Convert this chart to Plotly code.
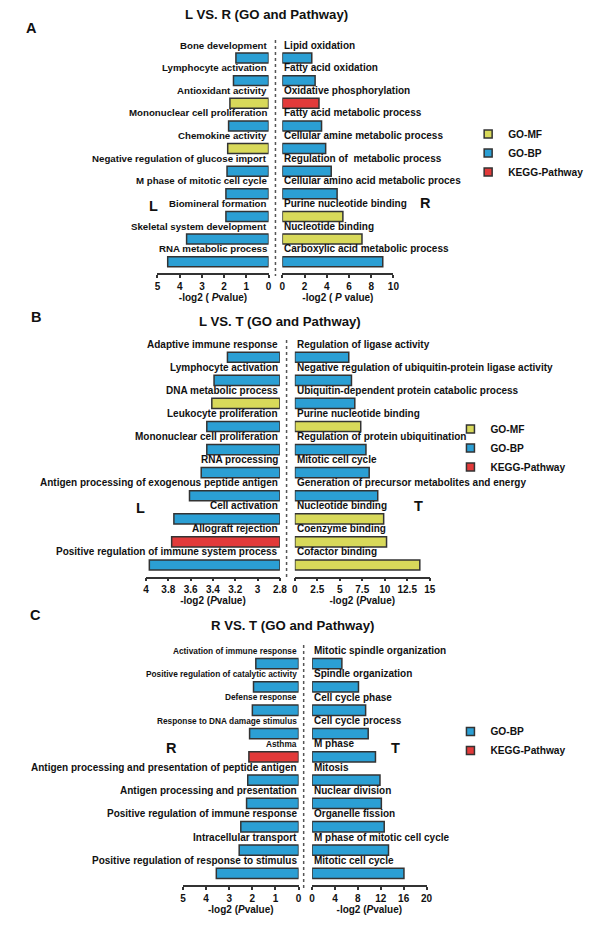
import plotly.graph_objects as go

# ---------------- A : L vs R ----------------
a_left_terms = ["Bone development", "Lymphocyte activation", "Antioxidant activity",
                "Mononuclear cell proliferation", "Chemokine activity",
                "Negative regulation of glucose import", "M phase of mitotic cell cycle",
                "Biomineral formation", "Skeletal system development", "RNA metabolic process"]
a_left_vals = [1.47, 1.58, 1.74, 1.80, 1.84, 1.87, 1.92, 1.92, 3.69, 4.54]
a_left_types = ["GO-BP", "GO-BP", "GO-MF", "GO-BP", "GO-MF",
                "GO-BP", "GO-BP", "GO-BP", "GO-BP", "GO-BP"]

a_right_terms = ["Lipid oxidation", "Fatty acid oxidation", "Oxidative phosphorylation",
                 "Fatty acid metabolic process", "Cellular amine metabolic process",
                 "Regulation of  metabolic process", "Cellular amino acid metabolic proces",
                 "Purine nucleotide binding", "Nucleotide binding",
                 "Carboxylic acid metabolic process"]
a_right_vals = [2.65, 2.95, 3.3, 3.53, 3.9, 4.4, 4.93, 5.45, 7.17, 9.04]
a_right_types = ["GO-BP", "GO-BP", "KEGG-Pathway", "GO-BP", "GO-BP",
                 "GO-BP", "GO-BP", "GO-MF", "GO-MF", "GO-BP"]

# ---------------- B : L vs T ----------------
b_left_terms = ["Adaptive immune response", "Lymphocyte activation", "DNA metabolic process",
                "Leukocyte proliferation", "Mononuclear cell proliferation", "RNA processing",
                "Antigen processing of exogenous peptide antigen", "Cell activation",
                "Allograft rejection", "Positive regulation of immune system process"]
b_left_vals = [3.27, 3.39, 3.41, 3.455, 3.455, 3.505, 3.61, 3.75, 3.77, 3.97]
b_left_types = ["GO-BP", "GO-BP", "GO-MF", "GO-BP", "GO-BP",
                "GO-BP", "GO-BP", "GO-BP", "KEGG-Pathway", "GO-BP"]

b_right_terms = ["Regulation of ligase activity",
                 "Negative regulation of ubiquitin-protein ligase activity",
                 "Ubiquitin-dependent protein catabolic process", "Purine nucleotide binding",
                 "Regulation of protein ubiquitination", "Mitotic cell cycle",
                 "Generation of precursor metabolites and energy", "Nucleotide binding",
                 "Coenzyme binding", "Cofactor binding"]
b_right_vals = [6.0, 6.3, 6.67, 7.33, 7.91, 8.27, 9.22, 9.88, 10.2, 13.9]
b_right_types = ["GO-BP", "GO-BP", "GO-BP", "GO-MF", "GO-BP",
                 "GO-BP", "GO-BP", "GO-MF", "GO-MF", "GO-MF"]

# ---------------- C : R vs T ----------------
c_left_terms = ["Activation of immune response", "Positive regulation of catalytic activity",
                "Defense response", "Response to DNA damage stimulus", "Asthma",
                "Antigen processing and presentation of peptide antigen",
                "Antigen processing and presentation", "Positive regulation of immune response",
                "Intracellular transport", "Positive regulation of response to stimulus"]
c_left_vals = [1.85, 1.95, 2.0, 2.12, 2.15, 2.2, 2.25, 2.5, 2.57, 3.56]
c_left_types = ["GO-BP", "GO-BP", "GO-BP", "GO-BP", "KEGG-Pathway",
                "GO-BP", "GO-BP", "GO-BP", "GO-BP", "GO-BP"]

c_right_terms = ["Mitotic spindle organization", "Spindle organization", "Cell cycle phase",
                 "Cell cycle process", "M phase", "Mitosis", "Nuclear division",
                 "Organelle fission", "M phase of mitotic cell cycle", "Mitotic cell cycle"]
c_right_vals = [5.2, 8.1, 9.35, 9.8, 11.07, 11.86, 12.1, 12.6, 13.35, 16.05]
c_right_types = ["GO-BP"] * 10

COLORS = {"GO-MF": "#D8D95A", "GO-BP": "#2B9FD4", "KEGG-Pathway": "#E23A3A"}
TYPE_ORDER = ["GO-MF", "GO-BP", "KEGG-Pathway"]
FONT = "Liberation Sans, Arial, sans-serif"
OFF = 8           # page body margin
FW, FH = 592, 909

fig = go.Figure()
annotations = []


def px(v):
    return (v - OFF) / FW


def py(v):
    return 1 - (v - OFF) / FH


def add_side(terms, vals, types, ax, side, base=0, size=10, small=0):
    for t in TYPE_ORDER:
        idx = [i for i, ty in enumerate(types) if ty == t]
        if not idx:
            continue
        fig.add_trace(go.Bar(
            y=[terms[i] for i in idx],
            x=[vals[i] - base for i in idx],
            base=base,
            orientation="h",
            marker=dict(color=COLORS[t], line=dict(color="#333333", width=1.5)),
            name=t, showlegend=False,
            xaxis="x" + ax, yaxis="y" + ax,
            hoverinfo="skip",
        ))
    for i, term in enumerate(terms):
        annotations.append(dict(
            x=base, y=term, xref="x" + ax, yref="y" + ax,
            text="<b>%s</b>" % term, showarrow=False,
            xanchor="right" if side == "left" else "left",
            yanchor="middle", yshift=13,
            font=dict(size=8.3 if i < small else size, color="#111", family=FONT),
        ))


def add_legend(types, legend):
    for t in TYPE_ORDER:
        if t in types:
            fig.add_trace(go.Scatter(
                x=[None], y=[None], mode="markers", name=t, legend=legend,
                marker=dict(symbol="square", size=8, color=COLORS[t],
                            line=dict(color="#333333", width=1.5)),
            ))


add_side(a_left_terms, a_left_vals, a_left_types, "", "left", size=9.7)
add_side(a_right_terms, a_right_vals, a_right_types, "2", "right")
add_side(b_left_terms, b_left_vals, b_left_types, "3", "left", base=2.8)
add_side(b_right_terms, b_right_vals, b_right_types, "4", "right")
add_side(c_left_terms, c_left_vals, c_left_types, "5", "left", small=5)
add_side(c_right_terms, c_right_vals, c_right_types, "6", "right")

add_legend(a_left_types + a_right_types, "legend")
add_legend(b_left_types + b_right_types, "legend2")
add_legend(c_left_types + c_right_types, "legend3")


def xax(x0, x1, rng, dtick, anchor, title):
    return dict(domain=[px(x0), px(x1)], range=rng, dtick=dtick, anchor=anchor,
                showline=True, linecolor="#333333", linewidth=1.5,
                ticks="outside", ticklen=3, tickwidth=1.5, tickcolor="#333333",
                showgrid=False, zeroline=False,
                tickfont=dict(size=10, weight="bold", color="#111", family=FONT),
                title=dict(text=title, standoff=1,
                           font=dict(size=10, weight="bold", color="#111", family=FONT)))


def yax(y0, y1, terms, anchor):
    return dict(domain=[py(y1), py(y0)], categoryorder="array", categoryarray=terms,
                range=[len(terms) - 0.5, -0.5], autorange=False, anchor=anchor,
                showticklabels=False, showline=False, showgrid=False, zeroline=False,
                ticks="")


t_left = "-log2 (<i>P</i>value)"

fig.update_layout(
    xaxis=xax(157, 270, [5, 0], 1, "y", "-log2 ( <i>P</i>value)"),
    yaxis=yax(46.7, 273, a_left_terms, "x"),
    xaxis2=xax(284, 397, [0, 10], 2, "y2", "-log2 ( <i>P</i> value)"),
    yaxis2=yax(46.7, 273, a_right_terms, "x2"),
    xaxis3=xax(145.3, 281.5, [4, 2.8], 0.2, "y3", t_left),
    yaxis3=yax(345.7, 576.5, b_left_terms, "x3"),
    xaxis4=xax(296.7, 433.9, [0, 15], 2.5, "y4", t_left),
    yaxis4=yax(345.7, 576.5, b_right_terms, "x4"),
    xaxis5=xax(183, 300.5, [5, 0], 1, "y5", t_left),
    yaxis5=yax(652, 885, c_left_terms, "x5"),
    xaxis6=xax(314.3, 430.7, [0, 20], 4, "y6", t_left),
    yaxis6=yax(652, 885, c_right_terms, "x6"),
)

leg = dict(xanchor="left", yanchor="top", bgcolor="rgba(0,0,0,0)", tracegroupgap=0,
           font=dict(size=10.2, weight="bold", color="#111", family=FONT))
fig.update_layout(
    legend=dict(leg, x=px(473), y=py(119.5)),
    legend2=dict(leg, x=px(455), y=py(414.5)),
    legend3=dict(leg, x=px(455), y=py(717)),
)

# panel letters, titles, side markers
for txt, x, y, s in [("A", 29, 28, 14.5), ("B", 33, 317, 14.5), ("C", 33, 615, 14.5),
                     ("L VS. R (GO and Pathway)", 268, 15, 13.2),
                     ("L VS. T (GO and Pathway)", 282, 321, 13.2),
                     ("R VS. T (GO and Pathway)", 294.5, 625, 13.2),
                     ("L", 152.5, 205.7, 14.5), ("R", 430, 203, 14.5),
                     ("L", 140, 508, 14.5), ("T", 422, 506, 14.5),
                     ("R", 171, 748, 14.5), ("T", 399, 748, 14.5)]:
    annotations.append(dict(x=px(x), y=py(y), xref="paper", yref="paper", text="<b>%s</b>" % txt,
                            showarrow=False, xanchor="center", yanchor="middle",
                            font=dict(size=s, color="#111", family=FONT)))

# dotted separators between the two halves of each panel
shapes = []
for x, y0, y1 in [(277, 40, 276), (288.3, 340, 580), (305.7, 645, 888)]:
    shapes.append(dict(type="line", xref="paper", yref="paper", x0=px(x), x1=px(x),
                       y0=py(y0), y1=py(y1), line=dict(color="#555", width=1.5, dash="dot")))

fig.update_layout(
    annotations=annotations,
    shapes=shapes,
    barmode="overlay",
    bargap=0.56,
    width=FW, height=FH,
    margin=dict(l=0, r=0, t=0, b=0),
    plot_bgcolor="white",
    paper_bgcolor="white",
    font=dict(family=FONT, color="#111"),
)

fig.write_html("out.html")
